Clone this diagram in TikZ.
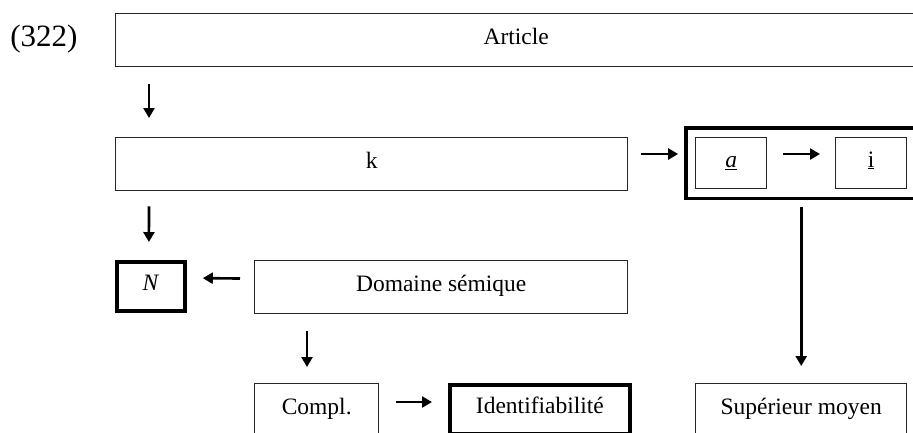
\documentclass[tikz,border=0pt]{standalone}
\usepackage{fontspec}
\setmainfont{Liberation Serif}
\usetikzlibrary{arrows.meta,fit}
\tikzset{
  cell/.style={draw=black!85, line width=1.4pt, inner sep=0pt, minimum height=53pt,
    text height=15pt, text depth=7pt, anchor=north west},
  heavy/.style={draw=black, line width=3.8pt, inner sep=0pt},
  link/.style={-{Triangle[length=10pt,width=11pt]}, line width=2.6pt}
}
\begin{document}
\begin{tikzpicture}[x=1pt, y=-1pt, font=\fontsize{23.5}{28}\selectfont]
\useasboundingbox (0,0) rectangle (913,432);
\clip (0,0) rectangle (913,432);
\node[font=\fontsize{31}{36}\selectfont] (num) at (44,39) {(322)};
% rows of boxes (pixel grid, y downwards)
\node[cell, minimum width=801pt] (art) at (115,13) {Article};
\node[cell, minimum width=512pt] (k) at (115,137) {k};
\node[cell, minimum width=71pt, minimum height=51pt] (a) at (695,137) {\underline{\textit{a}}};
\node[cell, minimum width=71pt, minimum height=51pt] (i) at (835,137) {\underline{i}};
\node[heavy, fit=(a)(i), inner sep=9pt] (pair) {};
\node[cell, heavy, minimum width=68pt, minimum height=49pt] (N) at (115,260) {\textit{N}};
\node[cell, minimum width=373pt] (dom) at (254,260) {Domaine sémique};
\node[cell, minimum width=124pt] (compl) at (254,383) {Compl.};
\node[cell, heavy, minimum width=180pt, minimum height=49pt] (ident) at (448,383) {Identifiabilité};
\node[cell, minimum width=211pt] (sup) at (695,383) {Supérieur moyen};
% connectors
\draw[link, shorten <=17pt, shorten >=19pt] ([xshift=34pt]art.south west) -- ([xshift=34pt]k.north west);
\draw[link, shorten <=15pt, shorten >=18pt] ([xshift=34pt]k.south west) -- ([xshift=-2pt]N.north);
\draw[link, shorten <=14pt, shorten >=16pt] ([yshift=8.5pt]dom.west) -- ([yshift=8.5pt]N.east);
\draw[link, shorten <=17pt, shorten >=16pt] ([xshift=53pt]dom.south west) -- ([xshift=53pt]compl.north west);
\draw[link, shorten <=17pt, shorten >=16pt] ([yshift=-19pt]compl.north east) -- ([yshift=-19pt]compl.north east -| ident.west);
\draw[link, shorten <=13pt, shorten >=6pt] ([yshift=-17pt]k.north east) -- ([yshift=-17pt]k.north east -| pair.west);
\draw[link, shorten <=16pt, shorten >=15pt] ([yshift=-17pt]a.north east) -- ([yshift=-17pt]i.north west);
\draw[link, shorten <=6.5pt, shorten >=17pt] (pair.south) -- (pair.south |- sup.north);
\end{tikzpicture}
\end{document}
